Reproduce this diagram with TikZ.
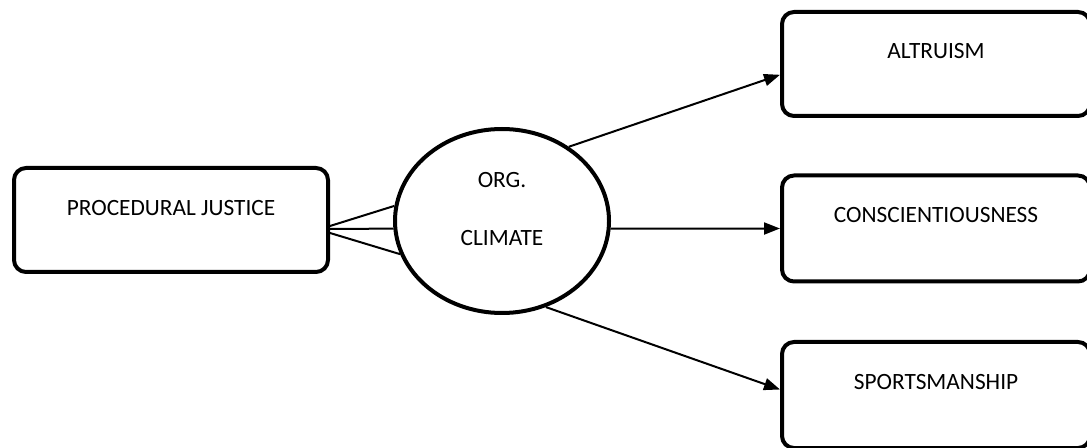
\documentclass[tikz,border=0pt]{standalone}
\usepackage{fontspec}
\setmainfont{Carlito}
\usetikzlibrary{positioning,calc,shapes.geometric,arrows.meta}

\begin{document}
\begin{tikzpicture}[x=0.75pt,y=-0.75pt,font=\fontsize{17.5}{21}\selectfont,
  box/.style={draw, line width=3pt, rounded corners=9pt, minimum width=231pt, minimum height=79.5pt},
  link/.style={line width=1.5pt},
  arr/.style={link, -{Triangle[length=12pt,width=9pt]}}]
  \useasboundingbox (0,0) rectangle (1087,448);
  % independent variable and mediator
  \node[box, minimum width=235.5pt, minimum height=78pt,
    label={[yshift=9pt]center:PROCEDURAL JUSTICE}] (pj) at (171,220) {};
  \node[draw, ellipse, line width=3pt, minimum width=160.5pt, minimum height=138pt,
    label={[yshift=30.75pt]center:ORG.}, label={[yshift=-12.75pt]center:CLIMATE}] (clim) at (502,221) {};
  % outcomes
  \node[box, minimum height=78pt, label={[yshift=10pt]center:ALTRUISM}] (alt) at (936,64) {};
  \node[box, label={[yshift=10pt]center:CONSCIENTIOUSNESS}] (consc) at (936,228.5) {};
  \node[box, label={[yshift=9.5pt]center:SPORTSMANSHIP}] (sport) at (936,395) {};
  % fan into the mediator
  \draw[link] ([yshift=-4.5pt]pj.east) -- (clim.172);
  \draw[link] ([yshift=-6.75pt]pj.east) -- (clim.184);
  \draw[link] ([yshift=-9.75pt]pj.east) -- (clim.198);
  % mediator -> outcomes
  \draw[arr] (clim.48) -- ($(alt.north west)!0.6!(alt.south west)$);
  \draw[arr] (clim.-4) -- (consc.west);
  \draw[arr] (clim.-63) -- ($(sport.north west)!0.45!(sport.south west)$);
\end{tikzpicture}
\end{document}
